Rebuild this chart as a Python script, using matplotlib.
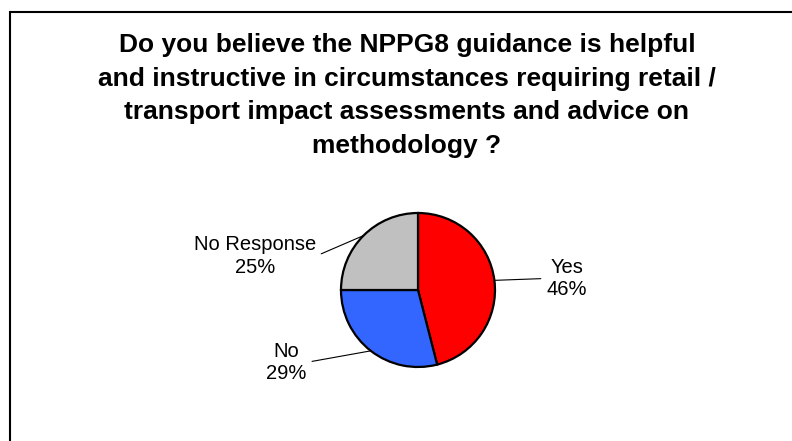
import matplotlib
matplotlib.use("Agg")
import matplotlib.pyplot as plt
import matplotlib.patches as mpatches
import numpy as np

# Survey responses (percent of respondents)
categories = ["Yes", "No", "No Response"]
shares = [46, 29, 25]
colors = ["#FF0000", "#3366FF", "#C0C0C0"]

title_lines = [
    "Do you believe the NPPG8 guidance is helpful",
    "and instructive in circumstances requiring retail /",
    "transport impact assessments and advice on",
    "methodology ?",
]

W, H = 792, 441
DPI = 100
fig = plt.figure(figsize=(W / DPI, H / DPI), dpi=DPI)
fig.patch.set_facecolor("white")

FONT = ["Liberation Sans", "DejaVu Sans"]

# Pie geometry in pixels (center from top-left, radius)
cx, cy, R = 418, 290, 77
ax = fig.add_axes([0, 0, 1, 1])
wedges, _ = ax.pie(
    shares,
    colors=colors,
    startangle=90,
    counterclock=False,
    wedgeprops=dict(edgecolor="black", linewidth=1.6),
)
ax.set_xlim(-cx / R, (W - cx) / R)
ax.set_ylim(-(H - cy) / R, cy / R)
ax.set_aspect("auto")
ax.axis("off")

# label placement (in pie-radius units) and leader-line anchor side
label_pos = [(1.93, 0.15), (-1.71, -0.94), (-2.12, 0.44)]
rel_side = [(0.0, 0.5), (1.0, 0.5), (1.0, 0.5)]

for w, cat, val, pos, rel in zip(wedges, categories, shares, label_pos, rel_side):
    mid = np.deg2rad((w.theta1 + w.theta2) / 2)
    edge = (np.cos(mid), np.sin(mid))
    ax.annotate(
        f"{cat}\n{val}%",
        xy=edge,
        xytext=pos,
        ha="center",
        va="center",
        fontsize=14.5,
        family=FONT,
        linespacing=1.25,
        arrowprops=dict(arrowstyle="-", color="black", lw=0.8,
                        shrinkA=2, shrinkB=0, relpos=rel),
    )

# Title, one line per row
baselines = [52, 86, 119.5, 153]
for line, yb in zip(title_lines, baselines):
    fig.text(407 / W, 1 - yb / H, line, ha="center", va="baseline",
             fontsize=19, fontweight="bold", family=FONT)

# Outer frame
frame = mpatches.Rectangle((10 / W, -0.2), 2.0, 1.2 - 11.5 / H,
                           transform=fig.transFigure, fill=False,
                           edgecolor="black", linewidth=1.5)
fig.patches.append(frame)

fig.savefig("out.png", dpi=DPI, facecolor="white")
